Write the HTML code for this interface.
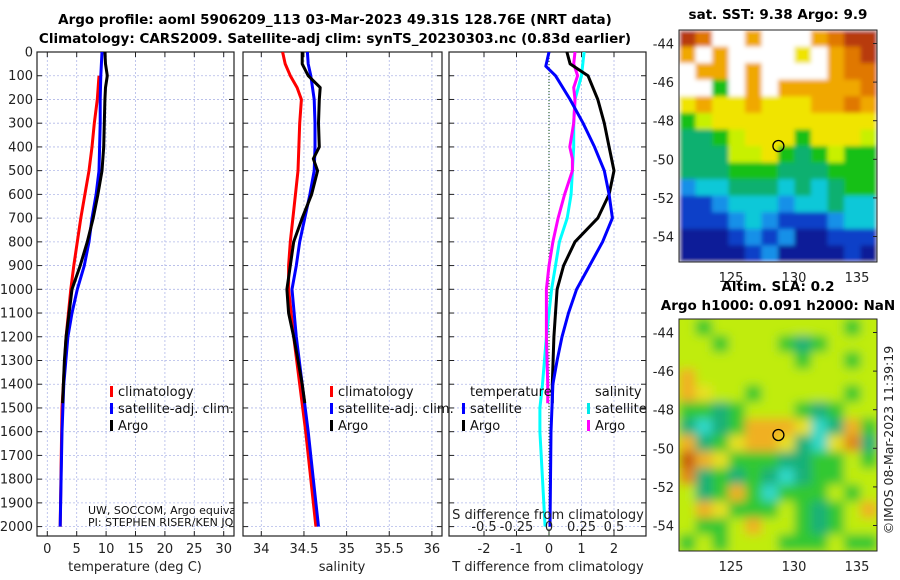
<!DOCTYPE html>
<html><head><meta charset="utf-8"><style>
body{margin:0;background:#fff}
svg{display:block;font-family:"DejaVu Sans","Liberation Sans",sans-serif}
</style></head><body>
<svg id="c" width="900" height="580" viewBox="0 0 900 580">
<defs>
<clipPath id="cp1"><rect x="37" y="52" width="197" height="484"/></clipPath>
<clipPath id="cp2"><rect x="243" y="52" width="199" height="484"/></clipPath>
<clipPath id="cp3"><rect x="449" y="52" width="197" height="484"/></clipPath>
<clipPath id="cpm1"><rect x="679" y="30" width="198" height="232"/></clipPath>
<clipPath id="cpm2"><rect x="679" y="319" width="198" height="232"/></clipPath>
<filter id="bl"><feGaussianBlur stdDeviation="5"/></filter>
<filter id="bl2"><feGaussianBlur stdDeviation="2"/></filter>
</defs>
<text x="335" y="24" font-size="13.5" font-weight="bold" text-anchor="middle">Argo profile: aoml 5906209_113 03-Mar-2023 49.31S 128.76E (NRT data)</text>
<text x="335" y="43" font-size="13.5" font-weight="bold" text-anchor="middle">Climatology: CARS2009. Satellite-adj clim: synTS_20230303.nc (0.83d earlier)</text>
<g id="g1"></g>
<g id="g2"></g>
<g id="g3"></g>
<g id="m1"></g>
<g id="m2"></g>
</svg>
<script>
// ---- data ----
const depthTicks=[0,100,200,300,400,500,600,700,800,900,1000,1100,1200,1300,1400,1500,1600,1700,1800,1900,2000];
const tTicks=[0,5,10,15,20,25,30];
const sTicks=[34,34.5,35,35.5,36];
const dTTicks=[-2,-1,0,1,2];
const dSTicks=[-0.5,-0.25,0,0.25,0.5];
const dSLabels=["-0.5","-0.25","0","0.25","0.5"];
// temperature panel
const tClimDepth=[100,200,300,400,500,600,700,800,900,1000,1200,1500,2000];
const tClim=[8.8,8.5,8.0,7.6,7.1,6.4,5.7,5.1,4.5,4.0,3.2,2.5,2.2];
const tSatDepth=[0,100,200,300,400,500,600,700,800,900,1000,1100,1200,1400,1600,2000];
const tSat=[9.3,9.1,9.0,9.0,8.9,8.8,8.3,7.6,7.1,6.3,5.1,4.2,3.5,2.8,2.5,2.2];
const tArgoDepth=[0,50,100,150,200,300,400,500,600,700,800,900,1000,1100,1200,1300,1480];
const tArgo=[9.8,9.9,10.2,9.9,9.8,9.7,9.6,9.3,8.6,7.8,6.8,5.6,4.2,3.7,3.2,2.9,2.6];
// salinity panel
const sClimDepth=[0,50,100,150,200,300,500,700,800,900,1000,1200,1400,1600,1800,2000];
const sClim=[34.25,34.28,34.34,34.42,34.47,34.45,34.43,34.37,34.34,34.32,34.32,34.38,34.45,34.52,34.58,34.64];
const sSatDepth=[0,50,100,200,300,400,500,600,700,800,900,1000,1200,1400,1600,1800,2000];
const sSat=[34.54,34.55,34.58,34.62,34.63,34.63,34.62,34.57,34.51,34.45,34.41,34.36,34.41,34.48,34.55,34.61,34.67];
const sArgoDepth=[0,50,100,150,200,300,400,450,500,600,700,800,900,1000,1100,1200,1300,1400,1480];
const sArgo=[34.48,34.48,34.55,34.69,34.68,34.67,34.68,34.61,34.66,34.59,34.48,34.38,34.34,34.30,34.32,34.38,34.43,34.48,34.51];
// difference panel
const dTSatDepth=[0,60,100,200,300,400,500,600,700,800,900,1000,1100,1200,1300,1400,1600,2000];
const dTSat=[0.0,-0.1,0.2,0.65,1.05,1.4,1.7,1.85,1.95,1.65,1.25,0.85,0.6,0.4,0.25,0.12,0.06,0.03];
const dTArgoDepth=[0,50,100,200,300,400,500,600,700,800,900,1000,1200,1400,1480];
const dTArgo=[0.55,0.65,1.2,1.5,1.7,1.85,2.0,1.85,1.5,0.8,0.45,0.25,0.15,0.1,0.1];
const dSSatDepth=[0,100,200,300,400,500,600,700,800,900,1000,1200,1400,1500,1600,2000];
const dSSat=[0.27,0.25,0.2,0.19,0.19,0.18,0.17,0.14,0.08,0.05,0.02,-0.02,-0.05,-0.07,-0.07,-0.03];
const dSArgoDepth=[0,50,100,150,200,300,400,450,500,600,700,800,900,1000,1200,1400,1480];
const dSArgo=[0.2,0.19,0.22,0.19,0.2,0.19,0.16,0.18,0.18,0.12,0.07,0.03,0.0,-0.02,-0.02,-0.01,-0.01];

const NS="http://www.w3.org/2000/svg";
function mk(parent,tag,attrs,text){const e=document.createElementNS(NS,tag);for(const k in attrs)e.setAttribute(k,attrs[k]);if(text!==undefined)e.textContent=text;parent.appendChild(e);return e;}
const yD=d=>52+d*0.2373;
const x1=t=>47.3+t*5.88;
const x2=s=>261.3+(s-34)*85.3;
const x3T=t=>549+t*32.5;
const x3S=s=>549+s*130;
const Y0=52,Y1=536;

function panel(g,L,R,xt,xf){
  depthTicks.forEach(d=>{
    const l=mk(g,'line',{x1:L,x2:R,y1:yD(d),y2:yD(d),stroke:'#b0b8e8','stroke-width':0.8,'stroke-dasharray':'2,2'});
    
    
    mk(g,'line',{x1:L,x2:L+5,y1:yD(d),y2:yD(d),stroke:'#222'});
    mk(g,'line',{x1:R-5,x2:R,y1:yD(d),y2:yD(d),stroke:'#222'});
  });
  xt.forEach(v=>{
    const l=mk(g,'line',{x1:xf(v),x2:xf(v),y1:Y0,y2:Y1,stroke:'#b0b8e8','stroke-width':0.8,'stroke-dasharray':'2,2'});
    
    
    mk(g,'line',{x1:xf(v),x2:xf(v),y1:Y1-5,y2:Y1,stroke:'#222'});
    mk(g,'line',{x1:xf(v),x2:xf(v),y1:Y0,y2:Y0+5,stroke:'#222'});
  });
  const b=mk(g,'rect',{x:L,y:Y0,width:R-L,height:Y1-Y0,fill:'none',stroke:'#222','stroke-width':1.2});
  
  
}
function line(g,depths,vals,xf,color,clip,name){
  const pts=depths.map((d,i)=>xf(vals[i]).toFixed(1)+','+yD(d).toFixed(1)).join(' ');
  const p=mk(g,'polyline',{points:pts,fill:'none',stroke:color,'stroke-width':3,'stroke-linejoin':'round','clip-path':'url(#'+clip+')'});
  
  
}
function tickLabels(g,vals,labels,xf,y){
  vals.forEach((v,i)=>{
    const t=mk(g,'text',{x:xf(v),y:y,'font-size':13,'text-anchor':'middle',fill:'#222'},labels?labels[i]:String(v));
    
    
  });
}
function legend(g,x,y0,items){
  items.forEach((it,i)=>{
    const y=y0+i*17;
    mk(g,'rect',{x:x,y:y-10,width:3,height:11,fill:it[1]});
    const t=mk(g,'text',{x:x+8,y:y,'font-size':13,fill:'#111'},it[0]);
    
    
  });
}

// panel 1
const g1=document.getElementById('g1');
panel(g1,37,234,tTicks,x1);
depthTicks.forEach(d=>{
  const t=mk(g1,'text',{x:33,y:yD(d)+4.5,'font-size':13,'text-anchor':'end',fill:'#222'},String(d));
  
  
});
line(g1,tClimDepth,tClim,x1,'#ff0000','cp1','temp-climatology-line');
line(g1,tSatDepth,tSat,x1,'#0000ff','cp1','temp-satellite-line');
line(g1,tArgoDepth,tArgo,x1,'#000000','cp1','temp-argo-line');
tickLabels(g1,tTicks,null,x1,553);
mk(g1,'text',{x:135,y:571,'font-size':13,'text-anchor':'middle',fill:'#222'},'temperature (deg C)');
legend(g1,110,396,[['climatology','#ff0000'],['satellite-adj. clim.','#0000ff'],['Argo','#000']]);
const cg=mk(g1,'g',{'clip-path':'url(#cp1)'});
mk(cg,'text',{x:88,y:514,'font-size':11,fill:'#111'},'UW, SOCCOM, Argo equivalent');
mk(cg,'text',{x:88,y:526,'font-size':11,fill:'#111'},'PI: STEPHEN RISER/KEN JOHNSON');

// panel 2
const g2=document.getElementById('g2');
panel(g2,243,442,sTicks,x2);
line(g2,sClimDepth,sClim,x2,'#ff0000','cp2','sal-climatology-line');
line(g2,sSatDepth,sSat,x2,'#0000ff','cp2','sal-satellite-line');
line(g2,sArgoDepth,sArgo,x2,'#000000','cp2','sal-argo-line');
tickLabels(g2,sTicks,null,x2,553);
mk(g2,'text',{x:342,y:571,'font-size':13,'text-anchor':'middle',fill:'#222'},'salinity');
legend(g2,330,396,[['climatology','#ff0000'],['satellite-adj. clim.','#0000ff'],['Argo','#000']]);

// panel 3
const g3=document.getElementById('g3');
panel(g3,449,646,dTTicks,x3T);
mk(g3,'line',{x1:549,x2:549,y1:Y0,y2:Y1,stroke:'#336633','stroke-dasharray':'1,2','stroke-width':1.2});
line(g3,dSSatDepth,dSSat,x3S,'#00ffff','cp3','dsal-satellite-line');
line(g3,dSArgoDepth,dSArgo,x3S,'#ff00ff','cp3','dsal-argo-line');
line(g3,dTArgoDepth,dTArgo,x3T,'#000000','cp3','dtemp-argo-line');
line(g3,dTSatDepth,dTSat,x3T,'#0000ff','cp3','dtemp-satellite-line');
tickLabels(g3,dTTicks,null,x3T,553);
tickLabels(g3,dSTicks,dSLabels,x3S,531);
mk(g3,'text',{x:548,y:519,'font-size':13,'text-anchor':'middle',fill:'#222'},'S difference from climatology');
mk(g3,'text',{x:548,y:571,'font-size':13,'text-anchor':'middle',fill:'#222'},'T difference from climatology');
mk(g3,'text',{x:470,y:396,'font-size':13,fill:'#111'},'temperature');
mk(g3,'text',{x:595,y:396,'font-size':13,fill:'#111'},'salinity');
legend(g3,462,413,[['satellite','#0000ff'],['Argo','#000']]);
legend(g3,587,413,[['satellite','#00e8e8'],['Argo','#ff00ff']]);

// maps
const pal1={R:'#b83a08',O:'#e07800',o:'#f0a800',Y:'#f0e400',y:'#c8f000',G:'#18c018',g:'#10b070',C:'#10c8d8',c:'#1890e8',B:'#1040c8',D:'#0a1e98',W:'#ffffff'};
const map1=["ROWWoWWWoORR","oWoWWWWYWoOR","WooWoWWWWoOO","WWGWoWoooooO","YoYYoYYYooOo","GyYYYYYYYYYY","ggGyYYYGYYYy","gggyyYGgGyGG","gggGGGgggGGG","cCCgggCgCgGG","BBcCCCcCCgCC","BBBcCcBBBcCC","DDDBcBcDDBBB","DDDDBcDDDDBD"];
const pal2={y:'#c0ec10',Y:'#e8e020',G:'#30c830',g:'#18b078',C:'#30d8c8',o:'#f0b020',O:'#e08818',R:'#c85a10'};
const map2=["yGyyyyyyyyGy","yyGyyyGgGyyy","yyyyyyyGyyGy","oyyyyyyyyyyy","oYyyGyyyyyGy","GGgGyyyGgGyy","gCgGoooYCgoG","ogGYooYgCYOg","RoYGGGggGGyG","OgGgGgCgGGyy","ygGoGCGGGyGy","yoYGGGyGgGyo","yGGyoyyGgGyy","GyGyyyGGGyGG"];
const LON0=120.87, LONPX=12.6;
function drawMap(id,grid,pal,top,blur,clip){
  const g=document.getElementById(id);
  const L=679,W=198,H=232,cw=W/12,ch=H/14;
  const cells=mk(g,'g',{'clip-path':'url(#'+clip+')'});
  const inner=mk(cells,'g',{filter:blur?'url(#bl)':'url(#bl2)'});
  mk(inner,'rect',{x:L-10,y:top-10,width:W+20,height:H+20,fill:blur?pal.y:'#ffffff'});
  grid.forEach((row,r)=>{for(let c=0;c<12;c++){
    mk(inner,'rect',{x:(L+c*cw).toFixed(1),y:(top+r*ch).toFixed(1),width:(cw+0.6).toFixed(1),height:(ch+0.6).toFixed(1),fill:pal[row[c]]});
  }});
  mk(g,'rect',{x:L,y:top,width:W,height:H,fill:'none',stroke:'#222','stroke-width':1});
  const lat=[-44,-46,-48,-50,-52,-54];
  lat.forEach(v=>{const y=top+(-43.3-v)*19.3;
    mk(g,'text',{x:674,y:y+5,'font-size':13,'text-anchor':'end',fill:'#222'},String(v));
    mk(g,'line',{x1:L+W-4,x2:L+W,y1:y,y2:y,stroke:'#222'});});
  [125,130,135].forEach(v=>{const x=L+(v-LON0)*LONPX;
    mk(g,'text',{x:x,y:top+H+20,'font-size':13,'text-anchor':'middle',fill:'#222'},String(v));});
  const cy=top+(49.31-43.3)*19.3, cx=L+(128.76-LON0)*LONPX;
  mk(g,'circle',{cx:cx,cy:cy,r:5.5,fill:'none',stroke:'#000','stroke-width':1.3});
}
drawMap('m1',map1,pal1,30,false,'cpm1');
drawMap('m2',map2,pal2,319,true,'cpm2');
const m1=document.getElementById('m1'),m2=document.getElementById('m2');
mk(m1,'text',{x:778,y:19,'font-size':13.5,'font-weight':'bold','text-anchor':'middle'},'sat. SST: 9.38 Argo: 9.9');
mk(m2,'text',{x:778,y:291,'font-size':13.5,'font-weight':'bold','text-anchor':'middle'},'Altim. SLA: 0.2');
mk(m2,'text',{x:778,y:310,'font-size':13.5,'font-weight':'bold','text-anchor':'middle'},'Argo h1000: 0.091 h2000: NaN');
mk(m2,'text',{x:893,y:440,'font-size':12.5,'text-anchor':'middle',transform:'rotate(-90 893 440)',fill:'#222'},'©IMOS 08-Mar-2023 11:39:19');
</script>
</body></html>
